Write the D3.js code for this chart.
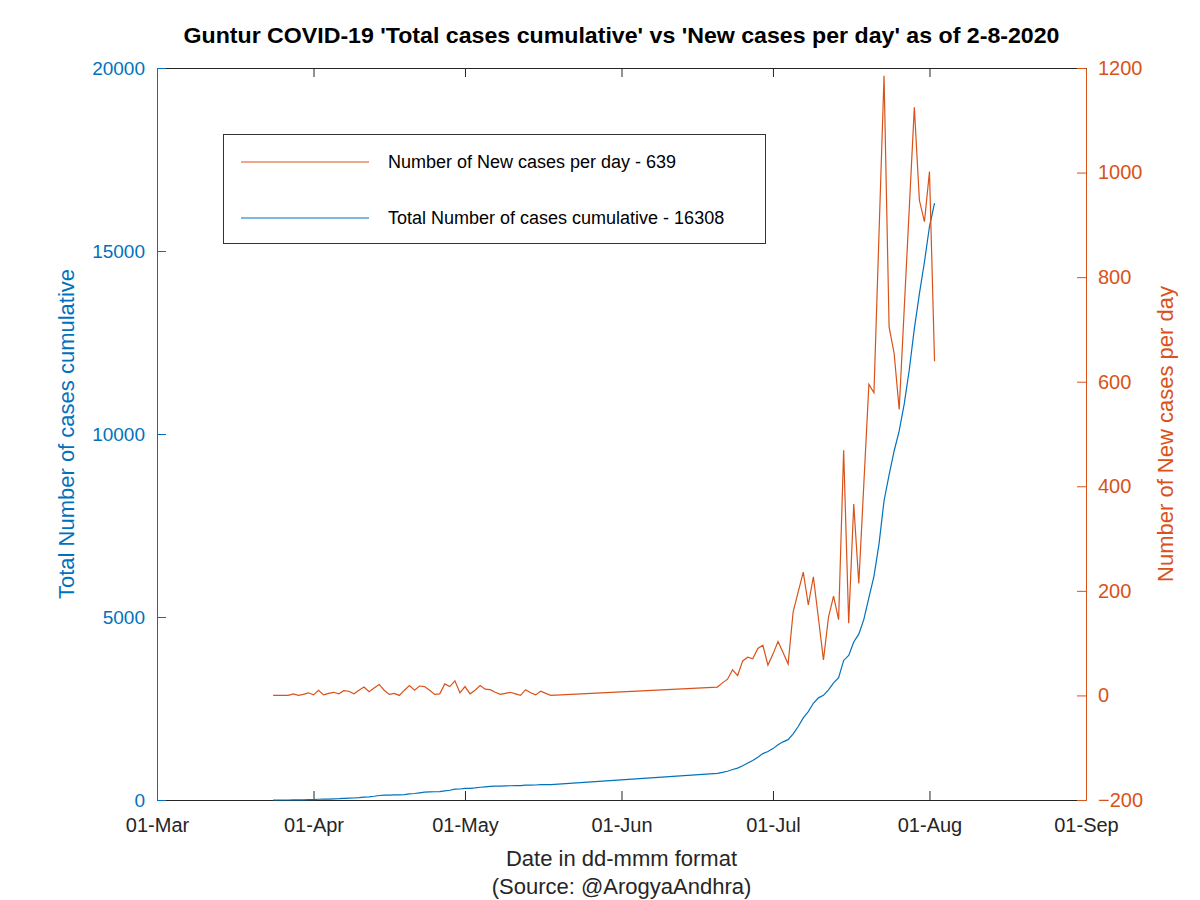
<!DOCTYPE html>
<html>
<head>
<meta charset="utf-8">
<script src="https://cdn.jsdelivr.net/npm/d3@7"></script>
<style>
  body { margin: 0; background: #fff; }
  svg { font-family: "Liberation Sans", Arial, Helvetica, sans-serif; }
</style>
</head>
<body>
<svg id="chart" width="1200" height="900"></svg>
<script>
// ---------------- DATA ----------------
const dates = [
  "2020-03-24","2020-03-25","2020-03-26","2020-03-27","2020-03-28","2020-03-29","2020-03-30","2020-03-31",
  "2020-04-01","2020-04-02","2020-04-03","2020-04-04","2020-04-05","2020-04-06","2020-04-07","2020-04-08","2020-04-09","2020-04-10",
  "2020-04-11","2020-04-12","2020-04-13","2020-04-14","2020-04-15","2020-04-16","2020-04-17","2020-04-18","2020-04-19","2020-04-20",
  "2020-04-21","2020-04-22","2020-04-23","2020-04-24","2020-04-25","2020-04-26","2020-04-27","2020-04-28","2020-04-29","2020-04-30",
  "2020-05-01","2020-05-02","2020-05-03","2020-05-04","2020-05-05","2020-05-06","2020-05-07","2020-05-08","2020-05-09","2020-05-10",
  "2020-05-11","2020-05-12","2020-05-13","2020-05-14","2020-05-15","2020-05-16","2020-05-17","2020-05-18",
  "2020-06-20","2020-06-21","2020-06-22","2020-06-23","2020-06-24","2020-06-25","2020-06-26","2020-06-27","2020-06-28","2020-06-29","2020-06-30",
  "2020-07-01","2020-07-02","2020-07-03","2020-07-04","2020-07-05","2020-07-06","2020-07-07","2020-07-08","2020-07-09","2020-07-10",
  "2020-07-11","2020-07-12","2020-07-13","2020-07-14","2020-07-15","2020-07-16","2020-07-17","2020-07-18","2020-07-19","2020-07-20",
  "2020-07-21","2020-07-22","2020-07-23","2020-07-24","2020-07-25","2020-07-26","2020-07-27","2020-07-28","2020-07-29","2020-07-30","2020-07-31",
  "2020-08-01","2020-08-02"
];

const newCases = [
  0,0,0,0,3,0,2,5,
  1,10,1,4,6,3,9,8,3,10,
  16,7,14,21,10,2,4,0,10,19,
  10,18,17,10,2,3,22,17,28,5,
  17,3,10,19,12,11,6,2,4,6,
  3,0,11,5,1,8,4,0,
  16,24,31,49,38,66,73,70,90,96,58,
  79,103,82,60,160,198,236,173,227,148,
  68,150,190,145,469,138,366,214,405,595,
  579,882,1185,705,654,547,740,932,1125,947,906,
  1002,639
];

const totalCases = [
  0,0,0,0,3,3,5,10,
  11,21,22,26,32,35,44,52,55,65,
  81,88,102,123,133,135,139,139,149,168,
  178,196,213,223,225,228,250,267,295,300,
  317,320,330,349,361,372,378,380,384,390,
  393,393,404,409,410,418,422,422,
  730,754,785,834,872,938,1011,1081,1171,1267,1325,
  1404,1507,1589,1649,1809,2007,2243,2416,2643,2791,
  2859,3009,3199,3344,3813,3951,4317,4531,4936,5531,
  6110,6992,8177,8882,9536,10083,10823,11755,12880,13827,14700,
  15669,16308
];

const xTickDates = ["2020-03-01","2020-04-01","2020-05-01","2020-06-01","2020-07-01","2020-08-01","2020-09-01"];
const xTickLabels = ["01-Mar","01-Apr","01-May","01-Jun","01-Jul","01-Aug","01-Sep"];
const leftTicks = [0, 5000, 10000, 15000, 20000];
const rightTicks = [-200, 0, 200, 400, 600, 800, 1000, 1200];

const titleText = "Guntur COVID-19 'Total cases cumulative' vs 'New cases per day' as of 2-8-2020";
const legendLabels = ["Number of New cases per day - 639", "Total Number of cases cumulative - 16308"];

// ---------------- LAYOUT ----------------
const BLUE = "#0072BD", ORANGE = "#D95319", DARK = "#262626";
const L = 157, R = 1086, T = 68, B = 800;
const svg = d3.select("#chart");
const parse = d3.utcParse("%Y-%m-%d");

const x = d3.scaleUtc().domain([parse(xTickDates[0]), parse(xTickDates[xTickDates.length - 1])]).range([L, R]);
const yL = d3.scaleLinear().domain([0, 20000]).range([B, T]);
const yR = d3.scaleLinear().domain([-200, 1200]).range([B, T]);

const rows = dates.map((d, i) => ({ date: parse(d), nc: newCases[i], tc: totalCases[i] }));

// Title
svg.append("text").attr("x", (L + R) / 2).attr("y", 43).attr("text-anchor", "middle")
  .attr("font-size", 22).attr("font-weight", "bold").attr("fill", "#000")
  .attr("textLength", 876).attr("lengthAdjust", "spacingAndGlyphs").text(titleText);

// Axes
const tickLen = 9;
const xAxisB = d3.axisBottom(x).tickValues(xTickDates.map(parse)).tickFormat((d, i) => xTickLabels[i])
  .tickSizeInner(-tickLen).tickSizeOuter(0).tickPadding(tickLen + 9);
const gxb = svg.append("g").attr("transform", `translate(0,${B})`).call(xAxisB);
gxb.select(".domain").attr("stroke", DARK);
gxb.selectAll(".tick line").attr("stroke", DARK);
gxb.selectAll(".tick text").attr("fill", DARK).attr("font-size", 20);

const xAxisT = d3.axisTop(x).tickValues(xTickDates.map(parse)).tickFormat("").tickSizeInner(-tickLen).tickSizeOuter(0);
const gxt = svg.append("g").attr("transform", `translate(0,${T})`).call(xAxisT);
gxt.select(".domain").attr("stroke", DARK);
gxt.selectAll(".tick line").attr("stroke", DARK);

const yAxisL = d3.axisLeft(yL).tickValues(leftTicks).tickFormat(d3.format("d"))
  .tickSizeInner(-tickLen).tickSizeOuter(0).tickPadding(tickLen + 3);
const gyl = svg.append("g").attr("transform", `translate(${L},0)`).call(yAxisL);
gyl.select(".domain").attr("stroke", BLUE);
gyl.selectAll(".tick line").attr("stroke", BLUE);
gyl.selectAll(".tick text").attr("fill", BLUE).attr("font-size", 19);

const yAxisR = d3.axisRight(yR).tickValues(rightTicks).tickFormat(d3.format("d"))
  .tickSizeInner(-tickLen).tickSizeOuter(0).tickPadding(tickLen + 3);
const gyr = svg.append("g").attr("transform", `translate(${R},0)`).call(yAxisR);
gyr.select(".domain").attr("stroke", ORANGE);
gyr.selectAll(".tick line").attr("stroke", ORANGE);
gyr.selectAll(".tick text").attr("fill", ORANGE).attr("font-size", 20);

// Axis labels
svg.append("text").attr("x", (L + R) / 2).attr("y", 866).attr("text-anchor", "middle")
  .attr("font-size", 22).attr("fill", DARK).text("Date in dd-mmm format");
svg.append("text").attr("x", (L + R) / 2).attr("y", 894).attr("text-anchor", "middle")
  .attr("font-size", 22).attr("fill", DARK).text("(Source: @ArogyaAndhra)");
svg.append("text").attr("transform", `translate(74,${(T + B) / 2}) rotate(-90)`).attr("text-anchor", "middle")
  .attr("font-size", 22).attr("fill", BLUE).text("Total Number of cases cumulative");
svg.append("text").attr("transform", `translate(1173,${(T + B) / 2}) rotate(-90)`).attr("text-anchor", "middle")
  .attr("font-size", 22).attr("fill", ORANGE).text("Number of New cases per day");

// Lines
const lineTotal = d3.line().x(d => x(d.date)).y(d => yL(d.tc));
const lineNew = d3.line().x(d => x(d.date)).y(d => yR(d.nc));
svg.append("path").datum(rows).attr("d", lineTotal).attr("fill", "none").attr("stroke", BLUE).attr("stroke-width", 1.2);
svg.append("path").datum(rows).attr("d", lineNew).attr("fill", "none").attr("stroke", ORANGE).attr("stroke-width", 1.2);

// Legend
const lg = svg.append("g");
lg.append("rect").attr("x", 223.5).attr("y", 134.5).attr("width", 542).attr("height", 109)
  .attr("fill", "#fff").attr("stroke", "#333").attr("stroke-width", 1);
const legendColors = [ORANGE, BLUE];
const legendY = [162, 218];
legendLabels.forEach((lab, i) => {
  lg.append("line").attr("x1", 241).attr("x2", 369).attr("y1", legendY[i]).attr("y2", legendY[i])
    .attr("stroke", legendColors[i]).attr("stroke-width", 1.2);
  lg.append("text").attr("x", 388).attr("y", legendY[i] + 6).attr("font-size", 18).attr("fill", "#000").text(lab);
});
</script>
</body>
</html>
